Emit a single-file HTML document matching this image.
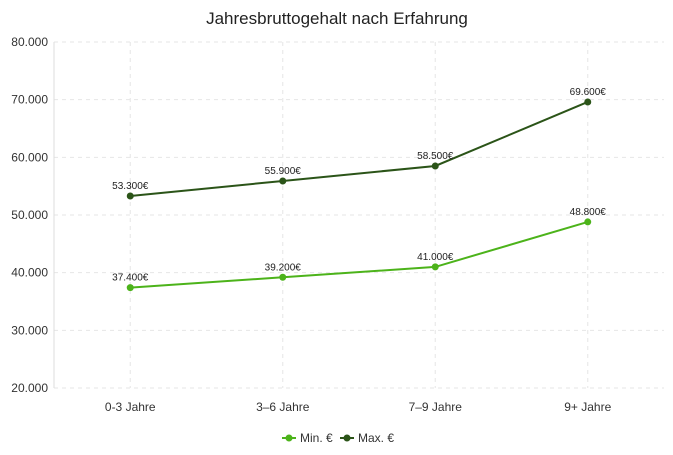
<!DOCTYPE html>
<html><head><meta charset="utf-8"><style>
body{margin:0;background:#fff;font-family:"Liberation Sans",sans-serif;}
svg text{font-family:"Liberation Sans",sans-serif;}
</style></head><body>
<svg width="673" height="450" id="c">
<text x="337" y="24" text-anchor="middle" font-size="17" fill="#222">Jahresbruttogehalt nach Erfahrung</text>
</svg>
<script>
const categories=["0-3 Jahre","3–6 Jahre","7–9 Jahre","9+ Jahre"];
const minValues=[37400,39200,41000,48800];
const maxValues=[53300,55900,58500,69600];
const yTicks=[20000,30000,40000,50000,60000,70000,80000];
const svg=document.getElementById('c');
const NS='http://www.w3.org/2000/svg';
const L=54,R=664,T=42,B=388,yMin=20000,yMax=80000;
const band=(R-L)/categories.length;
const x=i=>L+band*(i+0.5);
const y=v=>B-(v-yMin)/(yMax-yMin)*(B-T);
const fmt=v=>v.toLocaleString('de-DE');
function mk(tag,a,p){const e=document.createElementNS(NS,tag);for(const k in a)e.setAttribute(k,a[k]);(p||svg).appendChild(e);return e;}
yTicks.forEach(t=>{
 const g=mk('line',{x1:L,x2:R,y1:y(t),y2:y(t),stroke:'#e6e6e6','stroke-dasharray':'4,4'});
 
 
 const tx=mk('text',{x:L-6,y:y(t)+4,'text-anchor':'end','font-size':12,fill:'#333'});
 tx.textContent=fmt(t);
 
 
});
categories.forEach((c,i)=>{
 const g=mk('line',{x1:x(i),x2:x(i),y1:T,y2:B,stroke:'#e6e6e6','stroke-dasharray':'4,4'});
 
 
 const tx=mk('text',{x:x(i),y:411,'text-anchor':'middle','font-size':12,fill:'#333'});
 tx.textContent=c;
 
 
});
const ax=mk('line',{x1:L,x2:L,y1:T,y2:B,stroke:'#ddd'});


function series(vals,color,name){
 const p=mk('polyline',{points:vals.map((v,i)=>x(i)+','+y(v)).join(' '),fill:'none',stroke:color,'stroke-width':2});
 
 
 vals.forEach((v,i)=>{
  const c=mk('circle',{cx:x(i),cy:y(v),r:3.5,fill:color});
  
  
  const t=mk('text',{x:x(i),y:y(v)-7,'text-anchor':'middle','font-size':10,fill:'#222'});
  t.textContent=fmt(v)+'€';
  
  
 });
}
series(minValues,'#4cb31a','min');
series(maxValues,'#2b5418','max');
[[282,'#4cb31a','Min. €','legend-min'],[340,'#2b5418','Max. €','legend-max']].forEach(([lx,col,lab,n])=>{
 const g=mk('g',{});
 
 
 mk('line',{x1:lx,x2:lx+14,y1:438,y2:438,stroke:col,'stroke-width':2},g);
 mk('circle',{cx:lx+7,cy:438,r:3.5,fill:col},g);
 const t=mk('text',{x:lx+18,y:442,'font-size':12,fill:'#333'},g);
 t.textContent=lab;
});
</script>
</body></html>
